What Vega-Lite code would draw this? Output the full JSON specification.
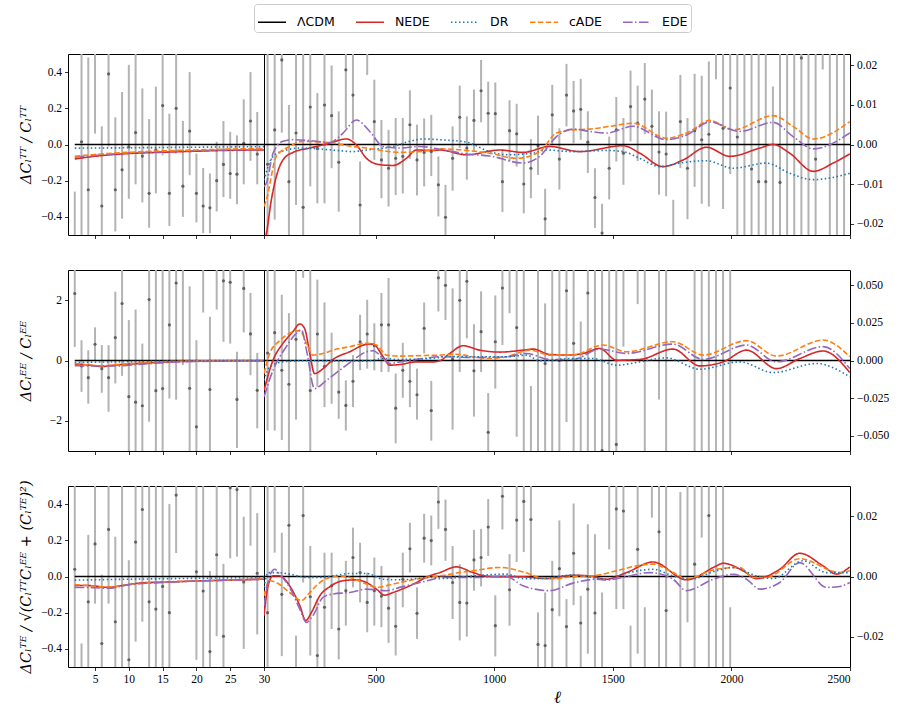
{
  "$schema": "https://vega.github.io/schema/vega-lite/v6.json",
  "background": "white",
  "padding": {"left": 17, "top": 3, "right": 5, "bottom": 5},
  "bounds": "flush",
  "columns": 2,
  "spacing": {"row": 35, "column": 0},
  "datasets": {
    "pts": [
      {"r":1,"l":2,"v":-0.62,"lo":-0.9,"hi":-0.26},{"r":1,"l":3,"v":0.015,"lo":-0.55,"hi":0.58},{"r":1,"l":4,"v":-0.25,"lo":-0.98,"hi":0.48},{"r":1,"l":5,"v":0.6,"lo":0.06,"hi":1.1},{"r":1,"l":6,"v":-0.34,"lo":-0.78,"hi":0.1},{"r":1,"l":7,"v":0.39,"lo":-0.01,"hi":0.79},{"r":1,"l":8,"v":-0.25,"lo":-0.48,"hi":0.15},{"r":1,"l":9,"v":-0.14,"lo":-0.41,"hi":0.29},{"r":1,"l":10,"v":-0.013,"lo":-0.3,"hi":0.44},{"r":1,"l":11,"v":0.066,"lo":-0.22,"hi":0.5},{"r":1,"l":12,"v":-0.064,"lo":-0.32,"hi":0.31},{"r":1,"l":13,"v":-0.27,"lo":-0.46,"hi":0.14},{"r":1,"l":14,"v":-0.03,"lo":-0.27,"hi":0.32},{"r":1,"l":15,"v":0.215,"lo":-0.06,"hi":0.55},{"r":1,"l":16,"v":-0.27,"lo":-0.45,"hi":0.17},{"r":1,"l":17,"v":0.2,"lo":-0.05,"hi":0.55},{"r":1,"l":18,"v":-0.23,"lo":-0.4,"hi":0.13},{"r":1,"l":19,"v":0.074,"lo":-0.17,"hi":0.4},{"r":1,"l":20,"v":-0.27,"lo":-0.43,"hi":-0.05},{"r":1,"l":21,"v":-0.34,"lo":-0.49,"hi":-0.13},{"r":1,"l":22,"v":-0.35,"lo":-0.49,"hi":-0.16},{"r":1,"l":23,"v":-0.2,"lo":-0.37,"hi":0.015},{"r":1,"l":24,"v":-0.11,"lo":-0.29,"hi":0.13},{"r":1,"l":25,"v":-0.16,"lo":-0.3,"hi":0.07},{"r":1,"l":26,"v":-0.164,"lo":-0.33,"hi":0.05},{"r":1,"l":27,"v":0.006,"lo":-0.22,"hi":0.25},{"r":1,"l":28,"v":0.13,"lo":-0.09,"hi":0.4},{"r":1,"l":29,"v":-0.053,"lo":-0.22,"hi":0.18},
      {"r":1,"l":45,"v":-0.005,"lo":-0.035,"hi":0.025},{"r":1,"l":75,"v":0.0037,"lo":-0.019,"hi":0.026},{"r":1,"l":105,"v":0.0214,"lo":0.003,"hi":0.041},{"r":1,"l":135,"v":-0.0094,"lo":-0.028,"hi":0.01},{"r":1,"l":165,"v":0.0029,"lo":-0.0153,"hi":0.023},{"r":1,"l":195,"v":-0.0159,"lo":-0.04,"hi":0.025},{"r":1,"l":225,"v":0.0095,"lo":-0.0106,"hi":0.027},{"r":1,"l":255,"v":-0.001,"lo":-0.0149,"hi":0.013},{"r":1,"l":285,"v":0.01,"lo":-0.0149,"hi":0.029},{"r":1,"l":315,"v":0.0073,"lo":-0.006,"hi":0.02},{"r":1,"l":345,"v":-0.0045,"lo":-0.017,"hi":0.0084},{"r":1,"l":375,"v":0.0189,"lo":0.0041,"hi":0.03},{"r":1,"l":405,"v":0.0125,"lo":0.0012,"hi":0.024},{"r":1,"l":435,"v":-0.0153,"lo":-0.026,"hi":-0.0043},{"r":1,"l":465,"v":0.0248,"lo":0.0176,"hi":0.032},{"r":1,"l":495,"v":0.0058,"lo":-0.0039,"hi":0.0164},{"r":1,"l":525,"v":-0.0039,"lo":-0.0136,"hi":0.0062},{"r":1,"l":555,"v":-0.006,"lo":-0.0157,"hi":0.0037},{"r":1,"l":585,"v":-0.0035,"lo":-0.0128,"hi":0.0067},{"r":1,"l":615,"v":-0.003,"lo":-0.0124,"hi":0.0067},{"r":1,"l":645,"v":0.005,"lo":-0.0036,"hi":0.0137},{"r":1,"l":675,"v":-0.0039,"lo":-0.0129,"hi":0.005},{"r":1,"l":705,"v":-0.002,"lo":-0.0106,"hi":0.0066},{"r":1,"l":735,"v":-0.0018,"lo":-0.008,"hi":0.0075},{"r":1,"l":765,"v":-0.0102,"lo":-0.0182,"hi":-0.003},{"r":1,"l":795,"v":-0.0184,"lo":-0.0266,"hi":-0.0102},{"r":1,"l":825,"v":-0.0035,"lo":-0.0117,"hi":0.0046},{"r":1,"l":855,"v":0.0069,"lo":-0.0009,"hi":0.0149},{"r":1,"l":885,"v":-0.0009,"lo":-0.0089,"hi":0.0071},{"r":1,"l":915,"v":0.0061,"lo":-0.0018,"hi":0.0139},{"r":1,"l":945,"v":0.0136,"lo":0.0056,"hi":0.0214},{"r":1,"l":975,"v":0.0079,"lo":0.0,"hi":0.0159},{"r":1,"l":1005,"v":0.0078,"lo":-0.0003,"hi":0.0157},{"r":1,"l":1035,"v":-0.0094,"lo":-0.0171,"hi":-0.0014},{"r":1,"l":1065,"v":0.0035,"lo":-0.0043,"hi":0.0112},{"r":1,"l":1095,"v":0.0027,"lo":-0.0056,"hi":0.0103},{"r":1,"l":1125,"v":-0.01,"lo":-0.0174,"hi":-0.002},{"r":1,"l":1155,"v":-0.006,"lo":-0.0136,"hi":0.0014},{"r":1,"l":1185,"v":-0.0003,"lo":-0.0077,"hi":0.0073},{"r":1,"l":1215,"v":-0.0188,"lo":-0.027,"hi":-0.0112},{"r":1,"l":1245,"v":0.0075,"lo":-0.0001,"hi":0.0151},{"r":1,"l":1275,"v":-0.0037,"lo":-0.0114,"hi":0.0041},{"r":1,"l":1305,"v":0.0125,"lo":0.0046,"hi":0.0204},{"r":1,"l":1335,"v":0.0085,"lo":0.0003,"hi":0.0161},{"r":1,"l":1365,"v":0.0089,"lo":0.0012,"hi":0.0166},{"r":1,"l":1395,"v":0.0006,"lo":-0.0072,"hi":0.0084},{"r":1,"l":1425,"v":-0.0134,"lo":-0.0211,"hi":-0.006},{"r":1,"l":1455,"v":-0.0224,"lo":-0.03,"hi":-0.015},{"r":1,"l":1485,"v":-0.006,"lo":-0.0139,"hi":0.002},{"r":1,"l":1515,"v":0.0037,"lo":-0.0043,"hi":0.012},{"r":1,"l":1545,"v":-0.0022,"lo":-0.0102,"hi":0.0067},{"r":1,"l":1575,"v":0.0096,"lo":0.0008,"hi":0.0187},{"r":1,"l":1605,"v":0.0054,"lo":-0.0042,"hi":0.0149},{"r":1,"l":1635,"v":0.0115,"lo":0.0026,"hi":0.0206},{"r":1,"l":1665,"v":0.0046,"lo":-0.005,"hi":0.0139},{"r":1,"l":1695,"v":-0.0019,"lo":-0.0127,"hi":0.0084},{"r":1,"l":1725,"v":-0.0024,"lo":-0.0131,"hi":0.0083},{"r":1,"l":1755,"v":-0.025,"lo":-0.036,"hi":-0.014},{"r":1,"l":1785,"v":0.0058,"lo":-0.006,"hi":0.0176},{"r":1,"l":1815,"v":-0.006,"lo":-0.0189,"hi":0.0067},{"r":1,"l":1845,"v":0.0035,"lo":-0.0107,"hi":0.0179},{"r":1,"l":1875,"v":0.0012,"lo":-0.015,"hi":0.0174},{"r":1,"l":1905,"v":0.0026,"lo":-0.0157,"hi":0.021},{"r":1,"l":1935,"v":0.026,"lo":0.0165,"hi":0.04},{"r":1,"l":1965,"v":0.0041,"lo":-0.0163,"hi":0.0245},{"r":1,"l":1995,"v":0.0143,"lo":-0.0075,"hi":0.036},{"r":1,"l":2025,"v":0.0019,"lo":-0.024,"hi":0.026},{"r":1,"l":2055,"v":-0.03,"lo":-0.085,"hi":0.025},{"r":1,"l":2085,"v":-0.0062,"lo":-0.037,"hi":0.025},{"r":1,"l":2115,"v":-0.0094,"lo":-0.043,"hi":0.024},{"r":1,"l":2145,"v":-0.0094,"lo":-0.043,"hi":0.024},{"r":1,"l":2175,"v":-0.025,"lo":-0.065,"hi":0.0147},{"r":1,"l":2205,"v":-0.0096,"lo":-0.045,"hi":0.026},{"r":1,"l":2235,"v":0.03,"lo":-0.03,"hi":0.09},{"r":1,"l":2265,"v":-0.03,"lo":-0.09,"hi":0.03},{"r":1,"l":2295,"v":0.0219,"lo":-0.023,"hi":0.067},{"r":1,"l":2325,"v":0.03,"lo":-0.03,"hi":0.09},{"r":1,"l":2355,"v":-0.0037,"lo":-0.05,"hi":0.043},{"r":1,"l":2385,"v":0.065,"lo":0.019,"hi":0.11},{"r":1,"l":2415,"v":-0.035,"lo":-0.09,"hi":0.025},{"r":1,"l":2445,"v":0.035,"lo":-0.03,"hi":0.1},{"r":1,"l":2475,"v":-0.03,"lo":-0.1,"hi":0.04},
      {"r":2,"l":2,"v":2.22,"lo":0.45,"hi":4},{"r":2,"l":3,"v":-0.18,"lo":-1.04,"hi":0.67},{"r":2,"l":4,"v":-0.57,"lo":-1.43,"hi":0.34},{"r":2,"l":5,"v":0.54,"lo":0.0,"hi":1.1},{"r":2,"l":6,"v":-0.27,"lo":-1.07,"hi":0.51},{"r":2,"l":7,"v":-0.57,"lo":-1.7,"hi":0.51},{"r":2,"l":8,"v":0.76,"lo":-0.76,"hi":2.28},{"r":2,"l":9,"v":1.89,"lo":-0.51,"hi":3.5},{"r":2,"l":10,"v":-1.2,"lo":-3.5,"hi":1.34},{"r":2,"l":11,"v":-1.38,"lo":-4,"hi":1.69},{"r":2,"l":12,"v":-1.5,"lo":-3.5,"hi":0.56},{"r":2,"l":13,"v":2.02,"lo":-2.03,"hi":4},{"r":2,"l":14,"v":-1.0,"lo":-3.5,"hi":3.2},{"r":2,"l":15,"v":-0.93,"lo":-3.5,"hi":3.2},{"r":2,"l":16,"v":1.18,"lo":-1.26,"hi":3.5},{"r":2,"l":17,"v":2.57,"lo":-1.3,"hi":4},{"r":2,"l":18,"v":3.2,"lo":-0.15,"hi":6},{"r":2,"l":19,"v":-0.92,"lo":-3.5,"hi":2.46},{"r":2,"l":20,"v":-2.2,"lo":-4.5,"hi":0.67},{"r":2,"l":21,"v":3.8,"lo":1.59,"hi":6},{"r":2,"l":22,"v":-0.96,"lo":-3.5,"hi":1.45},{"r":2,"l":23,"v":3.8,"lo":1.69,"hi":6},{"r":2,"l":24,"v":2.64,"lo":0.62,"hi":4.6},{"r":2,"l":25,"v":2.59,"lo":0.56,"hi":4.6},{"r":2,"l":26,"v":-1.29,"lo":-2.9,"hi":0.29},{"r":2,"l":27,"v":2.39,"lo":0.93,"hi":3.9},{"r":2,"l":28,"v":0.88,"lo":-0.49,"hi":2.24},{"r":2,"l":29,"v":-0.99,"lo":-2.25,"hi":0.25},
      {"r":2,"l":45,"v":0.005,"lo":-0.0466,"hi":0.07},{"r":2,"l":75,"v":0.0185,"lo":-0.0466,"hi":0.07},{"r":2,"l":105,"v":-0.0065,"lo":-0.0529,"hi":0.0437},{"r":2,"l":135,"v":-0.0158,"lo":-0.065,"hi":0.0315},{"r":2,"l":165,"v":0.0141,"lo":-0.0393,"hi":0.07},{"r":2,"l":195,"v":0.08,"lo":0.055,"hi":0.11},{"r":2,"l":225,"v":-0.02,"lo":-0.08,"hi":0.07},{"r":2,"l":255,"v":0.0176,"lo":-0.0176,"hi":0.0538},{"r":2,"l":285,"v":-0.0038,"lo":-0.031,"hi":0.0386},{"r":2,"l":315,"v":-0.0004,"lo":-0.0288,"hi":0.0185},{"r":2,"l":345,"v":-0.021,"lo":-0.0388,"hi":0.0002},{"r":2,"l":375,"v":-0.0299,"lo":-0.0466,"hi":-0.0132},{"r":2,"l":405,"v":-0.0138,"lo":-0.031,"hi":0.0036},{"r":2,"l":435,"v":0.0125,"lo":-0.0065,"hi":0.0304},{"r":2,"l":465,"v":0.0176,"lo":-0.0054,"hi":0.0404},{"r":2,"l":495,"v":0.0098,"lo":-0.0065,"hi":0.0248},{"r":2,"l":525,"v":0.0237,"lo":-0.0076,"hi":0.0449},{"r":2,"l":555,"v":0.0237,"lo":-0.0076,"hi":0.0549},{"r":2,"l":585,"v":-0.0317,"lo":-0.0551,"hi":-0.0087},{"r":2,"l":615,"v":-0.0065,"lo":-0.0248,"hi":0.0118},{"r":2,"l":645,"v":-0.0138,"lo":-0.031,"hi":0.0013},{"r":2,"l":675,"v":-0.0228,"lo":-0.0393,"hi":-0.0054},{"r":2,"l":705,"v":0.0214,"lo":0.0047,"hi":0.0386},{"r":2,"l":735,"v":-0.0333,"lo":-0.0533,"hi":-0.0136},{"r":2,"l":765,"v":0.055,"lo":0.0326,"hi":0.08},{"r":2,"l":795,"v":0.05,"lo":0.027,"hi":0.08},{"r":2,"l":825,"v":0.001,"lo":-0.046,"hi":0.048},{"r":2,"l":855,"v":0.04,"lo":-0.0076,"hi":0.07},{"r":2,"l":885,"v":0.0527,"lo":0.0147,"hi":0.075},{"r":2,"l":915,"v":-0.0069,"lo":-0.0373,"hi":0.0241},{"r":2,"l":945,"v":0.0192,"lo":-0.0076,"hi":0.046},{"r":2,"l":975,"v":-0.0478,"lo":-0.075,"hi":-0.0217},{"r":2,"l":1005,"v":0.0125,"lo":-0.0187,"hi":0.0433},{"r":2,"l":1035,"v":0.0482,"lo":0.0103,"hi":0.08},{"r":2,"l":1065,"v":0.065,"lo":0.0315,"hi":0.1},{"r":2,"l":1095,"v":0.0219,"lo":-0.0507,"hi":0.07},{"r":2,"l":1125,"v":0.08,"lo":-0.07,"hi":0.23},{"r":2,"l":1155,"v":-0.07,"lo":-0.12,"hi":-0.017},{"r":2,"l":1185,"v":-0.08,"lo":-0.2,"hi":0.07},{"r":2,"l":1215,"v":-0.002,"lo":-0.07,"hi":0.038},{"r":2,"l":1245,"v":0.08,"lo":-0.07,"hi":0.2},{"r":2,"l":1275,"v":0.0,"lo":-0.07,"hi":0.07},{"r":2,"l":1305,"v":0.0464,"lo":-0.041,"hi":0.09},{"r":2,"l":1335,"v":0.0114,"lo":-0.07,"hi":0.07},{"r":2,"l":1365,"v":-0.07,"lo":-0.17,"hi":0.0259},{"r":2,"l":1395,"v":0.0449,"lo":-0.07,"hi":0.15},{"r":2,"l":1425,"v":-0.09,"lo":-0.2,"hi":0.07},{"r":2,"l":1455,"v":-0.06,"lo":-0.16,"hi":0.07},{"r":2,"l":1485,"v":0.09,"lo":-0.07,"hi":0.25},{"r":2,"l":1515,"v":-0.0558,"lo":-0.16,"hi":0.07},{"r":2,"l":1545,"v":0.08,"lo":0.0092,"hi":0.15},{"r":2,"l":1605,"v":0.09,"lo":0.0375,"hi":0.15},{"r":2,"l":1635,"v":-0.1,"lo":-0.3,"hi":0.07},{"r":2,"l":1695,"v":0.08,"lo":-0.026,"hi":0.19},{"r":2,"l":1725,"v":-0.1,"lo":-0.3,"hi":0.1},{"r":2,"l":1845,"v":0.1,"lo":-0.1,"hi":0.3},{"r":2,"l":1875,"v":-0.1,"lo":-0.3,"hi":0.1},{"r":2,"l":1905,"v":0.1,"lo":-0.1,"hi":0.3},{"r":2,"l":1935,"v":-0.1,"lo":-0.3,"hi":0.1},{"r":2,"l":1965,"v":0.1,"lo":-0.1,"hi":0.3},{"r":2,"l":1995,"v":-0.1,"lo":-0.3,"hi":0.1},
      {"r":3,"l":2,"v":0.04,"lo":-0.6,"hi":0.7},{"r":3,"l":3,"v":-0.7,"lo":-1.0,"hi":-0.37},{"r":3,"l":4,"v":-0.14,"lo":-0.51,"hi":0.23},{"r":3,"l":5,"v":0.18,"lo":-0.15,"hi":0.5},{"r":3,"l":6,"v":-0.37,"lo":-0.75,"hi":0.01},{"r":3,"l":7,"v":0.26,"lo":-0.15,"hi":0.6},{"r":3,"l":8,"v":-0.25,"lo":-0.72,"hi":0.22},{"r":3,"l":9,"v":-0.6,"lo":-1.5,"hi":0.6},{"r":3,"l":10,"v":-0.46,"lo":-1.0,"hi":0.09},{"r":3,"l":11,"v":0.19,"lo":-0.36,"hi":0.6},{"r":3,"l":12,"v":0.37,"lo":-0.25,"hi":0.8},{"r":3,"l":13,"v":-0.14,"lo":-0.7,"hi":0.55},{"r":3,"l":14,"v":-0.18,"lo":-0.8,"hi":0.55},{"r":3,"l":15,"v":-0.055,"lo":-0.65,"hi":0.55},{"r":3,"l":16,"v":-0.2,"lo":-0.8,"hi":0.4},{"r":3,"l":17,"v":0.45,"lo":0.13,"hi":0.9},{"r":3,"l":18,"v":0.8,"lo":0.55,"hi":1.1},{"r":3,"l":19,"v":-0.8,"lo":-1.1,"hi":-0.55},{"r":3,"l":20,"v":0.026,"lo":-0.46,"hi":0.5},{"r":3,"l":21,"v":-0.08,"lo":-0.6,"hi":0.55},{"r":3,"l":22,"v":-0.415,"lo":-0.86,"hi":0.03},{"r":3,"l":23,"v":0.12,"lo":-0.33,"hi":0.5},{"r":3,"l":24,"v":-0.33,"lo":-0.73,"hi":0.07},{"r":3,"l":25,"v":0.49,"lo":0.1,"hi":0.9},{"r":3,"l":26,"v":0.48,"lo":0.11,"hi":0.85},{"r":3,"l":27,"v":-0.03,"lo":-0.4,"hi":0.33},{"r":3,"l":28,"v":0.55,"lo":0.17,"hi":0.85},{"r":3,"l":29,"v":0.018,"lo":-0.32,"hi":0.35},
      {"r":3,"l":45,"v":-0.012,"lo":-0.045,"hi":0.035},{"r":3,"l":75,"v":0.033,"lo":0.0079,"hi":0.06},{"r":3,"l":105,"v":-0.0059,"lo":-0.0264,"hi":0.0145},{"r":3,"l":135,"v":0.017,"lo":-0.0025,"hi":0.035},{"r":3,"l":165,"v":-0.035,"lo":-0.05,"hi":-0.0196},{"r":3,"l":195,"v":0.0202,"lo":-0.002,"hi":0.04},{"r":3,"l":225,"v":-0.0067,"lo":-0.0262,"hi":0.0101},{"r":3,"l":255,"v":-0.0262,"lo":-0.045,"hi":-0.0075},{"r":3,"l":285,"v":-0.0102,"lo":-0.03,"hi":0.0079},{"r":3,"l":315,"v":-0.0031,"lo":-0.0174,"hi":0.0079},{"r":3,"l":345,"v":-0.0174,"lo":-0.0275,"hi":-0.0003},{"r":3,"l":375,"v":-0.0047,"lo":-0.0163,"hi":0.0052},{"r":3,"l":405,"v":0.0063,"lo":-0.0036,"hi":0.0162},{"r":3,"l":435,"v":0.0013,"lo":-0.0086,"hi":0.0112},{"r":3,"l":465,"v":-0.0086,"lo":-0.0185,"hi":0.0013},{"r":3,"l":495,"v":-0.0047,"lo":-0.0163,"hi":0.0063},{"r":3,"l":525,"v":-0.0065,"lo":-0.0168,"hi":0.0035},{"r":3,"l":555,"v":-0.0105,"lo":-0.022,"hi":0.0002},{"r":3,"l":585,"v":-0.0165,"lo":-0.0262,"hi":-0.0053},{"r":3,"l":615,"v":-0.0009,"lo":-0.0102,"hi":0.0079},{"r":3,"l":645,"v":0.0092,"lo":0.0013,"hi":0.0178},{"r":3,"l":675,"v":-0.0122,"lo":-0.0207,"hi":-0.0036},{"r":3,"l":705,"v":0.0127,"lo":0.0046,"hi":0.0208},{"r":3,"l":735,"v":0.0119,"lo":0.0037,"hi":0.0202},{"r":3,"l":765,"v":0.0247,"lo":0.0158,"hi":0.033},{"r":3,"l":795,"v":0.0156,"lo":0.0052,"hi":0.0255},{"r":3,"l":825,"v":-0.002,"lo":-0.0141,"hi":0.0101},{"r":3,"l":855,"v":-0.0086,"lo":-0.0212,"hi":0.0041},{"r":3,"l":885,"v":-0.0088,"lo":-0.0199,"hi":0.0024},{"r":3,"l":915,"v":0.0055,"lo":-0.0047,"hi":0.0154},{"r":3,"l":945,"v":0.0063,"lo":-0.0033,"hi":0.0158},{"r":3,"l":975,"v":0.0164,"lo":0.0068,"hi":0.0257},{"r":3,"l":1005,"v":-0.0163,"lo":-0.0265,"hi":-0.0062},{"r":3,"l":1035,"v":0.0266,"lo":0.0156,"hi":0.038},{"r":3,"l":1065,"v":-0.0044,"lo":-0.0163,"hi":0.0074},{"r":3,"l":1095,"v":0.0187,"lo":0.0048,"hi":0.031},{"r":3,"l":1125,"v":0.0249,"lo":0.0081,"hi":0.035},{"r":3,"l":1155,"v":0.0189,"lo":-0.0009,"hi":0.034},{"r":3,"l":1185,"v":-0.0225,"lo":-0.034,"hi":-0.0119},{"r":3,"l":1215,"v":-0.0229,"lo":-0.04,"hi":-0.0053},{"r":3,"l":1245,"v":-0.011,"lo":-0.03,"hi":0.0052},{"r":3,"l":1275,"v":0.0026,"lo":-0.0132,"hi":0.0186},{"r":3,"l":1305,"v":-0.0166,"lo":-0.03,"hi":-0.0075},{"r":3,"l":1335,"v":0.0077,"lo":-0.0095,"hi":0.0242},{"r":3,"l":1365,"v":-0.0154,"lo":-0.03,"hi":-0.0064},{"r":3,"l":1395,"v":-0.0042,"lo":-0.0256,"hi":0.0173},{"r":3,"l":1425,"v":-0.0121,"lo":-0.035,"hi":0.014},{"r":3,"l":1455,"v":-0.035,"lo":-0.06,"hi":-0.0053},{"r":3,"l":1485,"v":0.035,"lo":0.009,"hi":0.06},{"r":3,"l":1515,"v":0.0224,"lo":-0.0108,"hi":0.04},{"r":3,"l":1545,"v":0.0217,"lo":-0.0108,"hi":0.04},{"r":3,"l":1575,"v":-0.04,"lo":-0.06,"hi":-0.0163},{"r":3,"l":1605,"v":0.009,"lo":-0.0256,"hi":0.035},{"r":3,"l":1635,"v":-0.04,"lo":-0.07,"hi":-0.0102},{"r":3,"l":1665,"v":0.045,"lo":0.0195,"hi":0.07},{"r":3,"l":1695,"v":0.0148,"lo":-0.035,"hi":0.065},{"r":3,"l":1725,"v":-0.0113,"lo":-0.06,"hi":0.035},{"r":3,"l":1785,"v":-0.035,"lo":-0.098,"hi":0.028},{"r":3,"l":1815,"v":0.035,"lo":-0.0152,"hi":0.085},{"r":3,"l":1845,"v":0.0041,"lo":-0.04,"hi":0.05},{"r":3,"l":1875,"v":0.04,"lo":0.0129,"hi":0.07},{"r":3,"l":1905,"v":0.0202,"lo":-0.035,"hi":0.075},{"r":3,"l":1935,"v":0.05,"lo":-0.04,"hi":0.14},{"r":3,"l":1965,"v":-0.05,"lo":-0.14,"hi":0.04},{"r":3,"l":1995,"v":-0.05,"lo":-0.09,"hi":-0.0102}
    ],
    "crv": [
      {"r":1,"s":"L","m":"ΛCDM","l":2,"v":0},{"r":1,"s":"L","m":"ΛCDM","l":30,"v":0},{"r":1,"s":"R","m":"ΛCDM","l":30,"v":0},{"r":1,"s":"R","m":"ΛCDM","l":2500,"v":0},
      {"r":2,"s":"L","m":"ΛCDM","l":2,"v":0},{"r":2,"s":"L","m":"ΛCDM","l":30,"v":0},{"r":2,"s":"R","m":"ΛCDM","l":30,"v":0},{"r":2,"s":"R","m":"ΛCDM","l":2500,"v":0},
      {"r":3,"s":"L","m":"ΛCDM","l":2,"v":0},{"r":3,"s":"L","m":"ΛCDM","l":30,"v":0},{"r":3,"s":"R","m":"ΛCDM","l":30,"v":0},{"r":3,"s":"R","m":"ΛCDM","l":2500,"v":0},

      {"r":1,"s":"L","m":"NEDE","l":2,"v":-0.08},{"r":1,"s":"L","m":"NEDE","l":5,"v":-0.065},{"r":1,"s":"L","m":"NEDE","l":10,"v":-0.05},{"r":1,"s":"L","m":"NEDE","l":15,"v":-0.043},{"r":1,"s":"L","m":"NEDE","l":20,"v":-0.037},{"r":1,"s":"L","m":"NEDE","l":25,"v":-0.032},{"r":1,"s":"L","m":"NEDE","l":30,"v":-0.03},
      {"r":1,"s":"L","m":"EDE","l":2,"v":-0.07},{"r":1,"s":"L","m":"EDE","l":5,"v":-0.06},{"r":1,"s":"L","m":"EDE","l":10,"v":-0.047},{"r":1,"s":"L","m":"EDE","l":15,"v":-0.04},{"r":1,"s":"L","m":"EDE","l":20,"v":-0.034},{"r":1,"s":"L","m":"EDE","l":25,"v":-0.03},{"r":1,"s":"L","m":"EDE","l":30,"v":-0.027},
      {"r":1,"s":"L","m":"cADE","l":2,"v":-0.065},{"r":1,"s":"L","m":"cADE","l":5,"v":-0.055},{"r":1,"s":"L","m":"cADE","l":10,"v":-0.043},{"r":1,"s":"L","m":"cADE","l":15,"v":-0.035},{"r":1,"s":"L","m":"cADE","l":20,"v":-0.03},{"r":1,"s":"L","m":"cADE","l":25,"v":-0.025},{"r":1,"s":"L","m":"cADE","l":30,"v":-0.022},
      {"r":1,"s":"L","m":"DR","l":2,"v":-0.02},{"r":1,"s":"L","m":"DR","l":10,"v":-0.018},{"r":1,"s":"L","m":"DR","l":20,"v":-0.015},{"r":1,"s":"L","m":"DR","l":30,"v":-0.012},

      {"r":1,"s":"R","m":"NEDE","l":30,"v":-0.025},{"r":1,"s":"R","m":"NEDE","l":40,"v":-0.0225},{"r":1,"s":"R","m":"NEDE","l":61,"v":-0.014},{"r":1,"s":"R","m":"NEDE","l":82,"v":-0.0081},{"r":1,"s":"R","m":"NEDE","l":110,"v":-0.0039},{"r":1,"s":"R","m":"NEDE","l":152,"v":-0.002},{"r":1,"s":"R","m":"NEDE","l":223,"v":-0.0009},{"r":1,"s":"R","m":"NEDE","l":300,"v":0.0002},{"r":1,"s":"R","m":"NEDE","l":377,"v":0.0014},{"r":1,"s":"R","m":"NEDE","l":419,"v":-0.0001},{"r":1,"s":"R","m":"NEDE","l":462,"v":-0.0035},{"r":1,"s":"R","m":"NEDE","l":518,"v":-0.0051},{"r":1,"s":"R","m":"NEDE","l":574,"v":-0.0053},{"r":1,"s":"R","m":"NEDE","l":630,"v":-0.0035},{"r":1,"s":"R","m":"NEDE","l":672,"v":-0.0014},{"r":1,"s":"R","m":"NEDE","l":743,"v":-0.0015},{"r":1,"s":"R","m":"NEDE","l":771,"v":-0.0014},{"r":1,"s":"R","m":"NEDE","l":883,"v":-0.0026},{"r":1,"s":"R","m":"NEDE","l":1024,"v":-0.0014},{"r":1,"s":"R","m":"NEDE","l":1122,"v":-0.002},{"r":1,"s":"R","m":"NEDE","l":1234,"v":-0.0005},{"r":1,"s":"R","m":"NEDE","l":1361,"v":-0.0018},{"r":1,"s":"R","m":"NEDE","l":1544,"v":-0.0003},{"r":1,"s":"R","m":"NEDE","l":1614,"v":-0.0022},{"r":1,"s":"R","m":"NEDE","l":1712,"v":-0.0056},{"r":1,"s":"R","m":"NEDE","l":1797,"v":-0.0039},{"r":1,"s":"R","m":"NEDE","l":1895,"v":-0.0007},{"r":1,"s":"R","m":"NEDE","l":1993,"v":-0.003},{"r":1,"s":"R","m":"NEDE","l":2120,"v":-0.0009},{"r":1,"s":"R","m":"NEDE","l":2176,"v":0},{"r":1,"s":"R","m":"NEDE","l":2246,"v":-0.0022},{"r":1,"s":"R","m":"NEDE","l":2345,"v":-0.0068},{"r":1,"s":"R","m":"NEDE","l":2429,"v":-0.0047},{"r":1,"s":"R","m":"NEDE","l":2499,"v":-0.0024},
      {"r":1,"s":"R","m":"DR","l":30,"v":-0.009},{"r":1,"s":"R","m":"DR","l":47,"v":-0.0056},{"r":1,"s":"R","m":"DR","l":68,"v":-0.003},{"r":1,"s":"R","m":"DR","l":124,"v":-0.0014},{"r":1,"s":"R","m":"DR","l":181,"v":-0.0009},{"r":1,"s":"R","m":"DR","l":321,"v":-0.0014},{"r":1,"s":"R","m":"DR","l":405,"v":-0.0018},{"r":1,"s":"R","m":"DR","l":462,"v":-0.0014},{"r":1,"s":"R","m":"DR","l":574,"v":-0.0005},{"r":1,"s":"R","m":"DR","l":644,"v":0.0008},{"r":1,"s":"R","m":"DR","l":700,"v":0.0014},{"r":1,"s":"R","m":"DR","l":771,"v":0.0012},{"r":1,"s":"R","m":"DR","l":883,"v":0.0006},{"r":1,"s":"R","m":"DR","l":981,"v":-0.0018},{"r":1,"s":"R","m":"DR","l":1052,"v":-0.0026},{"r":1,"s":"R","m":"DR","l":1164,"v":-0.0022},{"r":1,"s":"R","m":"DR","l":1220,"v":-0.0014},{"r":1,"s":"R","m":"DR","l":1333,"v":-0.0018},{"r":1,"s":"R","m":"DR","l":1473,"v":-0.0015},{"r":1,"s":"R","m":"DR","l":1544,"v":-0.0018},{"r":1,"s":"R","m":"DR","l":1614,"v":-0.0035},{"r":1,"s":"R","m":"DR","l":1698,"v":-0.0056},{"r":1,"s":"R","m":"DR","l":1783,"v":-0.0047},{"r":1,"s":"R","m":"DR","l":1895,"v":-0.0041},{"r":1,"s":"R","m":"DR","l":2007,"v":-0.006},{"r":1,"s":"R","m":"DR","l":2148,"v":-0.0047},{"r":1,"s":"R","m":"DR","l":2246,"v":-0.0073},{"r":1,"s":"R","m":"DR","l":2345,"v":-0.0089},{"r":1,"s":"R","m":"DR","l":2499,"v":-0.0073},
      {"r":1,"s":"R","m":"cADE","l":30,"v":-0.0157},{"r":1,"s":"R","m":"cADE","l":40,"v":-0.014},{"r":1,"s":"R","m":"cADE","l":82,"v":-0.003},{"r":1,"s":"R","m":"cADE","l":138,"v":-0.0005},{"r":1,"s":"R","m":"cADE","l":195,"v":0.0008},{"r":1,"s":"R","m":"cADE","l":300,"v":0.0005},{"r":1,"s":"R","m":"cADE","l":405,"v":-0.0005},{"r":1,"s":"R","m":"cADE","l":462,"v":-0.0009},{"r":1,"s":"R","m":"cADE","l":602,"v":-0.002},{"r":1,"s":"R","m":"cADE","l":743,"v":-0.0014},{"r":1,"s":"R","m":"cADE","l":771,"v":-0.0011},{"r":1,"s":"R","m":"cADE","l":883,"v":-0.0015},{"r":1,"s":"R","m":"cADE","l":981,"v":-0.0022},{"r":1,"s":"R","m":"cADE","l":1094,"v":-0.0035},{"r":1,"s":"R","m":"cADE","l":1192,"v":-0.0018},{"r":1,"s":"R","m":"cADE","l":1263,"v":0.0029},{"r":1,"s":"R","m":"cADE","l":1333,"v":0.0037},{"r":1,"s":"R","m":"cADE","l":1403,"v":0.0039},{"r":1,"s":"R","m":"cADE","l":1501,"v":0.0047},{"r":1,"s":"R","m":"cADE","l":1586,"v":0.0054},{"r":1,"s":"R","m":"cADE","l":1726,"v":0.0016},{"r":1,"s":"R","m":"cADE","l":1825,"v":0.0033},{"r":1,"s":"R","m":"cADE","l":1909,"v":0.0061},{"r":1,"s":"R","m":"cADE","l":2007,"v":0.0037},{"r":1,"s":"R","m":"cADE","l":2176,"v":0.0073},{"r":1,"s":"R","m":"cADE","l":2260,"v":0.0046},{"r":1,"s":"R","m":"cADE","l":2345,"v":0.0014},{"r":1,"s":"R","m":"cADE","l":2499,"v":0.0058},
      {"r":1,"s":"R","m":"EDE","l":30,"v":-0.0106},{"r":1,"s":"R","m":"EDE","l":40,"v":-0.0098},{"r":1,"s":"R","m":"EDE","l":68,"v":-0.0022},{"r":1,"s":"R","m":"EDE","l":110,"v":0.0008},{"r":1,"s":"R","m":"EDE","l":152,"v":0.0012},{"r":1,"s":"R","m":"EDE","l":223,"v":0.001},{"r":1,"s":"R","m":"EDE","l":307,"v":0.0005},{"r":1,"s":"R","m":"EDE","l":363,"v":0.0029},{"r":1,"s":"R","m":"EDE","l":419,"v":0.0062},{"r":1,"s":"R","m":"EDE","l":476,"v":0.0033},{"r":1,"s":"R","m":"EDE","l":532,"v":-0.0005},{"r":1,"s":"R","m":"EDE","l":602,"v":-0.0009},{"r":1,"s":"R","m":"EDE","l":686,"v":-0.0005},{"r":1,"s":"R","m":"EDE","l":771,"v":-0.0012},{"r":1,"s":"R","m":"EDE","l":883,"v":-0.0024},{"r":1,"s":"R","m":"EDE","l":981,"v":-0.0029},{"r":1,"s":"R","m":"EDE","l":1122,"v":-0.0047},{"r":1,"s":"R","m":"EDE","l":1192,"v":-0.003},{"r":1,"s":"R","m":"EDE","l":1263,"v":0.002},{"r":1,"s":"R","m":"EDE","l":1333,"v":0.0039},{"r":1,"s":"R","m":"EDE","l":1403,"v":0.0033},{"r":1,"s":"R","m":"EDE","l":1473,"v":0.0029},{"r":1,"s":"R","m":"EDE","l":1586,"v":0.0046},{"r":1,"s":"R","m":"EDE","l":1726,"v":0.0012},{"r":1,"s":"R","m":"EDE","l":1811,"v":0.0024},{"r":1,"s":"R","m":"EDE","l":1909,"v":0.0057},{"r":1,"s":"R","m":"EDE","l":2035,"v":0.0033},{"r":1,"s":"R","m":"EDE","l":2176,"v":0.0056},{"r":1,"s":"R","m":"EDE","l":2260,"v":0.002},{"r":1,"s":"R","m":"EDE","l":2345,"v":-0.0011},{"r":1,"s":"R","m":"EDE","l":2499,"v":0.0029},

      {"r":2,"s":"L","m":"NEDE","l":2,"v":-0.12},{"r":2,"s":"L","m":"NEDE","l":4,"v":-0.15},{"r":2,"s":"L","m":"NEDE","l":6,"v":-0.2},{"r":2,"s":"L","m":"NEDE","l":8,"v":-0.15},{"r":2,"s":"L","m":"NEDE","l":10,"v":-0.12},{"r":2,"s":"L","m":"NEDE","l":15,"v":-0.06},{"r":2,"s":"L","m":"NEDE","l":20,"v":-0.02},{"r":2,"s":"L","m":"NEDE","l":25,"v":-0.01},{"r":2,"s":"L","m":"NEDE","l":30,"v":-0.01},
      {"r":2,"s":"L","m":"cADE","l":2,"v":-0.1},{"r":2,"s":"L","m":"cADE","l":4,"v":-0.14},{"r":2,"s":"L","m":"cADE","l":6,"v":-0.18},{"r":2,"s":"L","m":"cADE","l":8,"v":-0.14},{"r":2,"s":"L","m":"cADE","l":12,"v":-0.08},{"r":2,"s":"L","m":"cADE","l":18,"v":-0.02},{"r":2,"s":"L","m":"cADE","l":30,"v":0},
      {"r":2,"s":"L","m":"EDE","l":2,"v":-0.17},{"r":2,"s":"L","m":"EDE","l":5,"v":-0.18},{"r":2,"s":"L","m":"EDE","l":8,"v":-0.18},{"r":2,"s":"L","m":"EDE","l":12,"v":-0.12},{"r":2,"s":"L","m":"EDE","l":18,"v":-0.04},{"r":2,"s":"L","m":"EDE","l":24,"v":-0.02},{"r":2,"s":"L","m":"EDE","l":30,"v":-0.01},
      {"r":2,"s":"L","m":"DR","l":2,"v":-0.06},{"r":2,"s":"L","m":"DR","l":10,"v":-0.04},{"r":2,"s":"L","m":"DR","l":20,"v":-0.01},{"r":2,"s":"L","m":"DR","l":30,"v":0},

      {"r":2,"s":"R","m":"NEDE","l":30,"v":-0.0199},{"r":2,"s":"R","m":"NEDE","l":68,"v":0.0002},{"r":2,"s":"R","m":"NEDE","l":110,"v":0.0114},{"r":2,"s":"R","m":"NEDE","l":152,"v":0.0192},{"r":2,"s":"R","m":"NEDE","l":181,"v":0.0243},{"r":2,"s":"R","m":"NEDE","l":201,"v":0.0214},{"r":2,"s":"R","m":"NEDE","l":223,"v":0.0047},{"r":2,"s":"R","m":"NEDE","l":243,"v":-0.0087},{"r":2,"s":"R","m":"NEDE","l":279,"v":-0.0054},{"r":2,"s":"R","m":"NEDE","l":321,"v":0.0007},{"r":2,"s":"R","m":"NEDE","l":391,"v":0.0058},{"r":2,"s":"R","m":"NEDE","l":462,"v":0.0107},{"r":2,"s":"R","m":"NEDE","l":490,"v":0.0109},{"r":2,"s":"R","m":"NEDE","l":532,"v":0.0025},{"r":2,"s":"R","m":"NEDE","l":560,"v":-0.0031},{"r":2,"s":"R","m":"NEDE","l":602,"v":-0.0027},{"r":2,"s":"R","m":"NEDE","l":672,"v":-0.0009},{"r":2,"s":"R","m":"NEDE","l":743,"v":-0.0009},{"r":2,"s":"R","m":"NEDE","l":771,"v":-0.0002},{"r":2,"s":"R","m":"NEDE","l":813,"v":0.0047},{"r":2,"s":"R","m":"NEDE","l":869,"v":0.0098},{"r":2,"s":"R","m":"NEDE","l":939,"v":0.0069},{"r":2,"s":"R","m":"NEDE","l":1024,"v":0.0056},{"r":2,"s":"R","m":"NEDE","l":1122,"v":0.0069},{"r":2,"s":"R","m":"NEDE","l":1164,"v":0.0076},{"r":2,"s":"R","m":"NEDE","l":1234,"v":0.004},{"r":2,"s":"R","m":"NEDE","l":1305,"v":0.0036},{"r":2,"s":"R","m":"NEDE","l":1375,"v":0.0047},{"r":2,"s":"R","m":"NEDE","l":1445,"v":0.008},{"r":2,"s":"R","m":"NEDE","l":1516,"v":0.0002},{"r":2,"s":"R","m":"NEDE","l":1614,"v":0.0007},{"r":2,"s":"R","m":"NEDE","l":1754,"v":0.0076},{"r":2,"s":"R","m":"NEDE","l":1867,"v":-0.0036},{"r":2,"s":"R","m":"NEDE","l":1965,"v":-0.0009},{"r":2,"s":"R","m":"NEDE","l":2064,"v":0.0069},{"r":2,"s":"R","m":"NEDE","l":2190,"v":-0.0054},{"r":2,"s":"R","m":"NEDE","l":2288,"v":0.0013},{"r":2,"s":"R","m":"NEDE","l":2387,"v":0.0063},{"r":2,"s":"R","m":"NEDE","l":2499,"v":-0.008},
      {"r":2,"s":"R","m":"cADE","l":30,"v":-0.0087},{"r":2,"s":"R","m":"cADE","l":54,"v":0.0047},{"r":2,"s":"R","m":"cADE","l":96,"v":0.0132},{"r":2,"s":"R","m":"cADE","l":138,"v":0.0181},{"r":2,"s":"R","m":"cADE","l":181,"v":0.0199},{"r":2,"s":"R","m":"cADE","l":209,"v":0.0114},{"r":2,"s":"R","m":"cADE","l":236,"v":0.0036},{"r":2,"s":"R","m":"cADE","l":279,"v":0.0047},{"r":2,"s":"R","m":"cADE","l":321,"v":0.0069},{"r":2,"s":"R","m":"cADE","l":391,"v":0.0092},{"r":2,"s":"R","m":"cADE","l":462,"v":0.0114},{"r":2,"s":"R","m":"cADE","l":504,"v":0.0103},{"r":2,"s":"R","m":"cADE","l":546,"v":0.0036},{"r":2,"s":"R","m":"cADE","l":602,"v":0.0029},{"r":2,"s":"R","m":"cADE","l":700,"v":0.0033},{"r":2,"s":"R","m":"cADE","l":771,"v":0.0036},{"r":2,"s":"R","m":"cADE","l":841,"v":0.0042},{"r":2,"s":"R","m":"cADE","l":911,"v":0.0025},{"r":2,"s":"R","m":"cADE","l":981,"v":0.0013},{"r":2,"s":"R","m":"cADE","l":1052,"v":0.0025},{"r":2,"s":"R","m":"cADE","l":1150,"v":0.0069},{"r":2,"s":"R","m":"cADE","l":1234,"v":0.0036},{"r":2,"s":"R","m":"cADE","l":1333,"v":0.0036},{"r":2,"s":"R","m":"cADE","l":1459,"v":0.0103},{"r":2,"s":"R","m":"cADE","l":1558,"v":0.0058},{"r":2,"s":"R","m":"cADE","l":1754,"v":0.0125},{"r":2,"s":"R","m":"cADE","l":1881,"v":0.0036},{"r":2,"s":"R","m":"cADE","l":2064,"v":0.0132},{"r":2,"s":"R","m":"cADE","l":2190,"v":0.0029},{"r":2,"s":"R","m":"cADE","l":2387,"v":0.0136},{"r":2,"s":"R","m":"cADE","l":2499,"v":0.0025},
      {"r":2,"s":"R","m":"EDE","l":30,"v":-0.0243},{"r":2,"s":"R","m":"EDE","l":68,"v":-0.0065},{"r":2,"s":"R","m":"EDE","l":124,"v":0.0092},{"r":2,"s":"R","m":"EDE","l":166,"v":0.0181},{"r":2,"s":"R","m":"EDE","l":188,"v":0.0203},{"r":2,"s":"R","m":"EDE","l":209,"v":0.0069},{"r":2,"s":"R","m":"EDE","l":243,"v":-0.0187},{"r":2,"s":"R","m":"EDE","l":293,"v":-0.0132},{"r":2,"s":"R","m":"EDE","l":349,"v":-0.0065},{"r":2,"s":"R","m":"EDE","l":405,"v":0.0002},{"r":2,"s":"R","m":"EDE","l":462,"v":0.0058},{"r":2,"s":"R","m":"EDE","l":490,"v":0.0065},{"r":2,"s":"R","m":"EDE","l":532,"v":0.0013},{"r":2,"s":"R","m":"EDE","l":560,"v":-0.002},{"r":2,"s":"R","m":"EDE","l":602,"v":-0.0009},{"r":2,"s":"R","m":"EDE","l":700,"v":0.0013},{"r":2,"s":"R","m":"EDE","l":771,"v":0.0025},{"r":2,"s":"R","m":"EDE","l":911,"v":0.002},{"r":2,"s":"R","m":"EDE","l":1052,"v":0.0025},{"r":2,"s":"R","m":"EDE","l":1136,"v":0.0047},{"r":2,"s":"R","m":"EDE","l":1234,"v":0.0007},{"r":2,"s":"R","m":"EDE","l":1333,"v":0.0007},{"r":2,"s":"R","m":"EDE","l":1445,"v":0.0076},{"r":2,"s":"R","m":"EDE","l":1558,"v":0.0047},{"r":2,"s":"R","m":"EDE","l":1754,"v":0.0109},{"r":2,"s":"R","m":"EDE","l":1881,"v":0.0007},{"r":2,"s":"R","m":"EDE","l":2064,"v":0.0103},{"r":2,"s":"R","m":"EDE","l":2190,"v":-0.0009},{"r":2,"s":"R","m":"EDE","l":2387,"v":0.0092},{"r":2,"s":"R","m":"EDE","l":2499,"v":-0.0054},
      {"r":2,"s":"R","m":"DR","l":30,"v":-0.0132},{"r":2,"s":"R","m":"DR","l":54,"v":-0.0042},{"r":2,"s":"R","m":"DR","l":110,"v":-0.0009},{"r":2,"s":"R","m":"DR","l":181,"v":-0.0002},{"r":2,"s":"R","m":"DR","l":251,"v":-0.0002},{"r":2,"s":"R","m":"DR","l":462,"v":-0.0004},{"r":2,"s":"R","m":"DR","l":532,"v":0.0013},{"r":2,"s":"R","m":"DR","l":602,"v":0.0007},{"r":2,"s":"R","m":"DR","l":743,"v":0.0015},{"r":2,"s":"R","m":"DR","l":800,"v":0.0027},{"r":2,"s":"R","m":"DR","l":911,"v":0.0025},{"r":2,"s":"R","m":"DR","l":1052,"v":0.0025},{"r":2,"s":"R","m":"DR","l":1136,"v":0.0036},{"r":2,"s":"R","m":"DR","l":1192,"v":-0.0002},{"r":2,"s":"R","m":"DR","l":1333,"v":0.0013},{"r":2,"s":"R","m":"DR","l":1417,"v":0.0013},{"r":2,"s":"R","m":"DR","l":1516,"v":-0.0031},{"r":2,"s":"R","m":"DR","l":1614,"v":-0.0009},{"r":2,"s":"R","m":"DR","l":1726,"v":0.0018},{"r":2,"s":"R","m":"DR","l":1867,"v":-0.0058},{"r":2,"s":"R","m":"DR","l":2035,"v":-0.0009},{"r":2,"s":"R","m":"DR","l":2176,"v":-0.008},{"r":2,"s":"R","m":"DR","l":2359,"v":-0.002},{"r":2,"s":"R","m":"DR","l":2499,"v":-0.0109},

      {"r":3,"s":"L","m":"NEDE","l":2,"v":-0.05},{"r":3,"s":"L","m":"NEDE","l":4,"v":-0.05},{"r":3,"s":"L","m":"NEDE","l":7,"v":-0.06},{"r":3,"s":"L","m":"NEDE","l":9,"v":-0.05},{"r":3,"s":"L","m":"NEDE","l":12,"v":-0.035},{"r":3,"s":"L","m":"NEDE","l":16,"v":-0.03},{"r":3,"s":"L","m":"NEDE","l":20,"v":-0.025},{"r":3,"s":"L","m":"NEDE","l":25,"v":-0.02},{"r":3,"s":"L","m":"NEDE","l":30,"v":-0.015},
      {"r":3,"s":"L","m":"cADE","l":2,"v":-0.045},{"r":3,"s":"L","m":"cADE","l":4,"v":-0.05},{"r":3,"s":"L","m":"cADE","l":7,"v":-0.058},{"r":3,"s":"L","m":"cADE","l":10,"v":-0.045},{"r":3,"s":"L","m":"cADE","l":14,"v":-0.032},{"r":3,"s":"L","m":"cADE","l":20,"v":-0.025},{"r":3,"s":"L","m":"cADE","l":30,"v":-0.013},
      {"r":3,"s":"L","m":"EDE","l":2,"v":-0.06},{"r":3,"s":"L","m":"EDE","l":5,"v":-0.062},{"r":3,"s":"L","m":"EDE","l":7,"v":-0.065},{"r":3,"s":"L","m":"EDE","l":10,"v":-0.045},{"r":3,"s":"L","m":"EDE","l":14,"v":-0.035},{"r":3,"s":"L","m":"EDE","l":20,"v":-0.025},{"r":3,"s":"L","m":"EDE","l":30,"v":-0.015},
      {"r":3,"s":"L","m":"DR","l":2,"v":-0.02},{"r":3,"s":"L","m":"DR","l":10,"v":-0.015},{"r":3,"s":"L","m":"DR","l":20,"v":-0.01},{"r":3,"s":"L","m":"DR","l":30,"v":-0.005},

      {"r":3,"s":"R","m":"NEDE","l":30,"v":-0.013},{"r":3,"s":"R","m":"NEDE","l":47,"v":-0.0031},{"r":3,"s":"R","m":"NEDE","l":68,"v":0.0002},{"r":3,"s":"R","m":"NEDE","l":96,"v":0.0002},{"r":3,"s":"R","m":"NEDE","l":138,"v":-0.0031},{"r":3,"s":"R","m":"NEDE","l":181,"v":-0.0097},{"r":3,"s":"R","m":"NEDE","l":206,"v":-0.0146},{"r":3,"s":"R","m":"NEDE","l":230,"v":-0.0119},{"r":3,"s":"R","m":"NEDE","l":265,"v":-0.0064},{"r":3,"s":"R","m":"NEDE","l":307,"v":-0.0034},{"r":3,"s":"R","m":"NEDE","l":363,"v":-0.0014},{"r":3,"s":"R","m":"NEDE","l":419,"v":-0.0011},{"r":3,"s":"R","m":"NEDE","l":462,"v":-0.002},{"r":3,"s":"R","m":"NEDE","l":504,"v":-0.0042},{"r":3,"s":"R","m":"NEDE","l":539,"v":-0.0062},{"r":3,"s":"R","m":"NEDE","l":574,"v":-0.0053},{"r":3,"s":"R","m":"NEDE","l":644,"v":-0.0031},{"r":3,"s":"R","m":"NEDE","l":728,"v":0.0002},{"r":3,"s":"R","m":"NEDE","l":771,"v":0.0013},{"r":3,"s":"R","m":"NEDE","l":841,"v":0.0032},{"r":3,"s":"R","m":"NEDE","l":911,"v":0.0013},{"r":3,"s":"R","m":"NEDE","l":981,"v":0},{"r":3,"s":"R","m":"NEDE","l":1122,"v":-0.0001},{"r":3,"s":"R","m":"NEDE","l":1220,"v":-0.0007},{"r":3,"s":"R","m":"NEDE","l":1333,"v":0.0004},{"r":3,"s":"R","m":"NEDE","l":1403,"v":0.0002},{"r":3,"s":"R","m":"NEDE","l":1473,"v":-0.0009},{"r":3,"s":"R","m":"NEDE","l":1558,"v":0.0013},{"r":3,"s":"R","m":"NEDE","l":1670,"v":0.0048},{"r":3,"s":"R","m":"NEDE","l":1811,"v":-0.0011},{"r":3,"s":"R","m":"NEDE","l":1937,"v":0.0035},{"r":3,"s":"R","m":"NEDE","l":1965,"v":0.0044},{"r":3,"s":"R","m":"NEDE","l":2049,"v":0.0019},{"r":3,"s":"R","m":"NEDE","l":2106,"v":-0.0007},{"r":3,"s":"R","m":"NEDE","l":2204,"v":0.0024},{"r":3,"s":"R","m":"NEDE","l":2288,"v":0.0077},{"r":3,"s":"R","m":"NEDE","l":2387,"v":0.0035},{"r":3,"s":"R","m":"NEDE","l":2443,"v":0.0008},{"r":3,"s":"R","m":"NEDE","l":2499,"v":0.0032},
      {"r":3,"s":"R","m":"cADE","l":30,"v":-0.0064},{"r":3,"s":"R","m":"cADE","l":54,"v":-0.0014},{"r":3,"s":"R","m":"cADE","l":82,"v":-0.002},{"r":3,"s":"R","m":"cADE","l":138,"v":-0.0053},{"r":3,"s":"R","m":"cADE","l":188,"v":-0.008},{"r":3,"s":"R","m":"cADE","l":223,"v":-0.0053},{"r":3,"s":"R","m":"cADE","l":265,"v":-0.002},{"r":3,"s":"R","m":"cADE","l":307,"v":-0.0003},{"r":3,"s":"R","m":"cADE","l":349,"v":0.0002},{"r":3,"s":"R","m":"cADE","l":391,"v":-0.0003},{"r":3,"s":"R","m":"cADE","l":462,"v":-0.0025},{"r":3,"s":"R","m":"cADE","l":504,"v":-0.0036},{"r":3,"s":"R","m":"cADE","l":574,"v":-0.0025},{"r":3,"s":"R","m":"cADE","l":672,"v":-0.0009},{"r":3,"s":"R","m":"cADE","l":743,"v":0},{"r":3,"s":"R","m":"cADE","l":771,"v":0.0002},{"r":3,"s":"R","m":"cADE","l":855,"v":0.0013},{"r":3,"s":"R","m":"cADE","l":911,"v":0.0019},{"r":3,"s":"R","m":"cADE","l":1024,"v":0.003},{"r":3,"s":"R","m":"cADE","l":1122,"v":0.0015},{"r":3,"s":"R","m":"cADE","l":1192,"v":-0.0003},{"r":3,"s":"R","m":"cADE","l":1263,"v":-0.0007},{"r":3,"s":"R","m":"cADE","l":1333,"v":0},{"r":3,"s":"R","m":"cADE","l":1417,"v":0.0002},{"r":3,"s":"R","m":"cADE","l":1516,"v":0.0019},{"r":3,"s":"R","m":"cADE","l":1614,"v":0.0037},{"r":3,"s":"R","m":"cADE","l":1670,"v":0.0041},{"r":3,"s":"R","m":"cADE","l":1754,"v":0.0013},{"r":3,"s":"R","m":"cADE","l":1811,"v":-0.0007},{"r":3,"s":"R","m":"cADE","l":1937,"v":0.0024},{"r":3,"s":"R","m":"cADE","l":2035,"v":0.003},{"r":3,"s":"R","m":"cADE","l":2092,"v":-0.0003},{"r":3,"s":"R","m":"cADE","l":2148,"v":-0.0003},{"r":3,"s":"R","m":"cADE","l":2288,"v":0.0059},{"r":3,"s":"R","m":"cADE","l":2457,"v":0.0013},{"r":3,"s":"R","m":"cADE","l":2499,"v":0.0019},
      {"r":3,"s":"R","m":"EDE","l":30,"v":-0.0097},{"r":3,"s":"R","m":"EDE","l":54,"v":0.0002},{"r":3,"s":"R","m":"EDE","l":75,"v":0.0024},{"r":3,"s":"R","m":"EDE","l":96,"v":0.0008},{"r":3,"s":"R","m":"EDE","l":138,"v":-0.0036},{"r":3,"s":"R","m":"EDE","l":181,"v":-0.0108},{"r":3,"s":"R","m":"EDE","l":209,"v":-0.0152},{"r":3,"s":"R","m":"EDE","l":236,"v":-0.013},{"r":3,"s":"R","m":"EDE","l":279,"v":-0.0069},{"r":3,"s":"R","m":"EDE","l":321,"v":-0.0058},{"r":3,"s":"R","m":"EDE","l":391,"v":-0.0053},{"r":3,"s":"R","m":"EDE","l":462,"v":-0.0042},{"r":3,"s":"R","m":"EDE","l":546,"v":-0.0047},{"r":3,"s":"R","m":"EDE","l":602,"v":-0.0036},{"r":3,"s":"R","m":"EDE","l":672,"v":-0.0023},{"r":3,"s":"R","m":"EDE","l":743,"v":-0.0009},{"r":3,"s":"R","m":"EDE","l":771,"v":-0.0003},{"r":3,"s":"R","m":"EDE","l":911,"v":-0.0003},{"r":3,"s":"R","m":"EDE","l":1052,"v":0},{"r":3,"s":"R","m":"EDE","l":1122,"v":-0.0031},{"r":3,"s":"R","m":"EDE","l":1234,"v":-0.0047},{"r":3,"s":"R","m":"EDE","l":1333,"v":-0.0022},{"r":3,"s":"R","m":"EDE","l":1431,"v":-0.0009},{"r":3,"s":"R","m":"EDE","l":1473,"v":-0.0012},{"r":3,"s":"R","m":"EDE","l":1558,"v":0},{"r":3,"s":"R","m":"EDE","l":1656,"v":0.0013},{"r":3,"s":"R","m":"EDE","l":1754,"v":-0.0009},{"r":3,"s":"R","m":"EDE","l":1811,"v":-0.0047},{"r":3,"s":"R","m":"EDE","l":1923,"v":-0.0009},{"r":3,"s":"R","m":"EDE","l":2007,"v":0.0007},{"r":3,"s":"R","m":"EDE","l":2064,"v":-0.0009},{"r":3,"s":"R","m":"EDE","l":2120,"v":-0.0042},{"r":3,"s":"R","m":"EDE","l":2204,"v":-0.002},{"r":3,"s":"R","m":"EDE","l":2288,"v":0.0046},{"r":3,"s":"R","m":"EDE","l":2401,"v":-0.0036},{"r":3,"s":"R","m":"EDE","l":2457,"v":-0.0033},{"r":3,"s":"R","m":"EDE","l":2499,"v":-0.002},
      {"r":3,"s":"R","m":"DR","l":30,"v":-0.0036},{"r":3,"s":"R","m":"DR","l":47,"v":0.0013},{"r":3,"s":"R","m":"DR","l":82,"v":0.0013},{"r":3,"s":"R","m":"DR","l":138,"v":0.0008},{"r":3,"s":"R","m":"DR","l":209,"v":-0.0003},{"r":3,"s":"R","m":"DR","l":265,"v":-0.0003},{"r":3,"s":"R","m":"DR","l":321,"v":0.0002},{"r":3,"s":"R","m":"DR","l":391,"v":0.001},{"r":3,"s":"R","m":"DR","l":462,"v":0.001},{"r":3,"s":"R","m":"DR","l":532,"v":-0.0009},{"r":3,"s":"R","m":"DR","l":602,"v":-0.0011},{"r":3,"s":"R","m":"DR","l":743,"v":-0.0003},{"r":3,"s":"R","m":"DR","l":771,"v":-0.0007},{"r":3,"s":"R","m":"DR","l":911,"v":0.0002},{"r":3,"s":"R","m":"DR","l":1052,"v":0.0008},{"r":3,"s":"R","m":"DR","l":1122,"v":-0.0007},{"r":3,"s":"R","m":"DR","l":1192,"v":-0.0007},{"r":3,"s":"R","m":"DR","l":1333,"v":0.0005},{"r":3,"s":"R","m":"DR","l":1473,"v":-0.0009},{"r":3,"s":"R","m":"DR","l":1544,"v":0.0008},{"r":3,"s":"R","m":"DR","l":1670,"v":0.0024},{"r":3,"s":"R","m":"DR","l":1754,"v":0.0002},{"r":3,"s":"R","m":"DR","l":1825,"v":-0.0009},{"r":3,"s":"R","m":"DR","l":1937,"v":0.0019},{"r":3,"s":"R","m":"DR","l":2007,"v":0.003},{"r":3,"s":"R","m":"DR","l":2106,"v":0.0002},{"r":3,"s":"R","m":"DR","l":2176,"v":-0.0007},{"r":3,"s":"R","m":"DR","l":2302,"v":0.0052},{"r":3,"s":"R","m":"DR","l":2401,"v":0.0013},{"r":3,"s":"R","m":"DR","l":2499,"v":0.0013}
    ]
  },
  "concat": [
    {
      "width": 196, "height": 181,
      "layer": [
        {"data": {"name": "pts"}, "transform": [{"filter": "datum.r == 1 && datum.l < 30"}],
         "mark": {"type": "rule", "color": "#b3b3b3", "strokeWidth": 2, "clip": true},
         "encoding": {
           "x": {"field": "l", "type": "quantitative", "scale": {"domain": [1, 30], "nice": false, "zero": false}, "axis": {"values": [5, 10, 15, 20, 25, 30], "tickCount": 12, "labels": false, "title": null}},
           "y": {"field": "lo", "type": "quantitative", "scale": {"domain": [-0.5, 0.5], "nice": false}, "axis": {"values": [-0.4, -0.2, 0, 0.2, 0.4], "tickCount": 12, "format": ".1f", "title": "ΔCₗᵀᵀ / Cₗᵀᵀ", "minExtent": 30, "maxExtent": 30, "titlePadding": 5}},
           "y2": {"field": "hi"}}},
        {"data": {"name": "pts"}, "transform": [{"filter": "datum.r == 1 && datum.l < 30"}],
         "mark": {"type": "circle", "color": "#505050", "size": 10, "opacity": 0.85, "clip": true},
         "encoding": {"x": {"field": "l", "type": "quantitative"}, "y": {"field": "v", "type": "quantitative"}}},
        {"data": {"name": "crv"}, "transform": [{"filter": "datum.r == 1 && datum.s == 'L'"}],
         "mark": {"type": "line", "strokeWidth": 1.6, "clip": true, "interpolate": "monotone"},
         "encoding": {"x": {"field": "l", "type": "quantitative"}, "y": {"field": "v", "type": "quantitative"},
           "color": {"field": "m", "type": "nominal", "scale": {"domain": ["ΛCDM", "NEDE", "DR", "cADE", "EDE"], "range": ["#000000", "#d62728", "#1f77b4", "#ff7f0e", "#9467bd"]}, "legend": {"title": null}},
           "strokeDash": {"field": "m", "type": "nominal", "scale": {"domain": ["ΛCDM", "NEDE", "DR", "cADE", "EDE"], "range": [[1, 0], [1, 0], [1.5, 2.5], [5.5, 2.4], [9.6, 2.4, 1.5, 2.4]]}, "legend": {"title": null}}}}
      ]
    },
    {
      "width": 586, "height": 181,
      "layer": [
        {"data": {"name": "pts"}, "transform": [{"filter": "datum.r == 1 && datum.l > 30"}],
         "mark": {"type": "rule", "color": "#b3b3b3", "strokeWidth": 2, "clip": true},
         "encoding": {
           "x": {"field": "l", "type": "quantitative", "scale": {"domain": [30, 2500], "nice": false, "zero": false}, "axis": {"values": [500, 1000, 1500, 2000, 2500], "tickCount": 12, "labels": false, "title": null}},
           "y": {"field": "lo", "type": "quantitative", "scale": {"domain": [-0.0229, 0.0229], "nice": false}, "axis": {"orient": "right", "values": [-0.02, -0.01, 0, 0.01, 0.02], "tickCount": 12, "format": ".2f", "title": null}},
           "y2": {"field": "hi"}}},
        {"data": {"name": "pts"}, "transform": [{"filter": "datum.r == 1 && datum.l > 30"}],
         "mark": {"type": "circle", "color": "#505050", "size": 10, "opacity": 0.85, "clip": true},
         "encoding": {"x": {"field": "l", "type": "quantitative"}, "y": {"field": "v", "type": "quantitative"}}},
        {"data": {"name": "crv"}, "transform": [{"filter": "datum.r == 1 && datum.s == 'R'"}],
         "mark": {"type": "line", "strokeWidth": 1.6, "clip": true, "interpolate": "monotone"},
         "encoding": {"x": {"field": "l", "type": "quantitative"}, "y": {"field": "v", "type": "quantitative"},
           "color": {"field": "m", "type": "nominal", "scale": {"domain": ["ΛCDM", "NEDE", "DR", "cADE", "EDE"], "range": ["#000000", "#d62728", "#1f77b4", "#ff7f0e", "#9467bd"]}, "legend": {"title": null}},
           "strokeDash": {"field": "m", "type": "nominal", "scale": {"domain": ["ΛCDM", "NEDE", "DR", "cADE", "EDE"], "range": [[1, 0], [1, 0], [1.5, 2.5], [5.5, 2.4], [9.6, 2.4, 1.5, 2.4]]}, "legend": {"title": null}}}},
        {"mark": {"type": "rule", "color": "#d62728", "strokeWidth": 1.5, "strokeDash": [1.5, 2.5]}, "encoding": {"x": {"datum": 200}}},
        {"mark": {"type": "rule", "color": "#d62728", "strokeWidth": 1.5, "strokeDash": [5.5, 2.4]}, "encoding": {"x": {"datum": 300}}}
      ]
    },
    {
      "width": 196, "height": 181,
      "layer": [
        {"data": {"name": "pts"}, "transform": [{"filter": "datum.r == 2 && datum.l < 30"}],
         "mark": {"type": "rule", "color": "#b3b3b3", "strokeWidth": 2, "clip": true},
         "encoding": {
           "x": {"field": "l", "type": "quantitative", "scale": {"domain": [1, 30], "nice": false, "zero": false}, "axis": {"values": [5, 10, 15, 20, 25, 30], "tickCount": 12, "labels": false, "title": null}},
           "y": {"field": "lo", "type": "quantitative", "scale": {"domain": [-3, 3], "nice": false}, "axis": {"values": [-2, 0, 2], "tickCount": 12, "format": "d", "title": "ΔCₗᴱᴱ / Cₗᴱᴱ", "minExtent": 30, "maxExtent": 30, "titlePadding": 5}},
           "y2": {"field": "hi"}}},
        {"data": {"name": "pts"}, "transform": [{"filter": "datum.r == 2 && datum.l < 30"}],
         "mark": {"type": "circle", "color": "#505050", "size": 10, "opacity": 0.85, "clip": true},
         "encoding": {"x": {"field": "l", "type": "quantitative"}, "y": {"field": "v", "type": "quantitative"}}},
        {"data": {"name": "crv"}, "transform": [{"filter": "datum.r == 2 && datum.s == 'L'"}],
         "mark": {"type": "line", "strokeWidth": 1.6, "clip": true, "interpolate": "monotone"},
         "encoding": {"x": {"field": "l", "type": "quantitative"}, "y": {"field": "v", "type": "quantitative"},
           "color": {"field": "m", "type": "nominal", "scale": {"domain": ["ΛCDM", "NEDE", "DR", "cADE", "EDE"], "range": ["#000000", "#d62728", "#1f77b4", "#ff7f0e", "#9467bd"]}, "legend": {"title": null}},
           "strokeDash": {"field": "m", "type": "nominal", "scale": {"domain": ["ΛCDM", "NEDE", "DR", "cADE", "EDE"], "range": [[1, 0], [1, 0], [1.5, 2.5], [5.5, 2.4], [9.6, 2.4, 1.5, 2.4]]}, "legend": {"title": null}}}}
      ]
    },
    {
      "width": 586, "height": 181,
      "layer": [
        {"data": {"name": "pts"}, "transform": [{"filter": "datum.r == 2 && datum.l > 30"}],
         "mark": {"type": "rule", "color": "#b3b3b3", "strokeWidth": 2, "clip": true},
         "encoding": {
           "x": {"field": "l", "type": "quantitative", "scale": {"domain": [30, 2500], "nice": false, "zero": false}, "axis": {"values": [500, 1000, 1500, 2000, 2500], "tickCount": 12, "labels": false, "title": null}},
           "y": {"field": "lo", "type": "quantitative", "scale": {"domain": [-0.0602, 0.0602], "nice": false}, "axis": {"orient": "right", "values": [-0.05, -0.025, 0, 0.025, 0.05], "tickCount": 12, "format": ".3f", "title": null}},
           "y2": {"field": "hi"}}},
        {"data": {"name": "pts"}, "transform": [{"filter": "datum.r == 2 && datum.l > 30"}],
         "mark": {"type": "circle", "color": "#505050", "size": 10, "opacity": 0.85, "clip": true},
         "encoding": {"x": {"field": "l", "type": "quantitative"}, "y": {"field": "v", "type": "quantitative"}}},
        {"data": {"name": "crv"}, "transform": [{"filter": "datum.r == 2 && datum.s == 'R'"}],
         "mark": {"type": "line", "strokeWidth": 1.6, "clip": true, "interpolate": "monotone"},
         "encoding": {"x": {"field": "l", "type": "quantitative"}, "y": {"field": "v", "type": "quantitative"},
           "color": {"field": "m", "type": "nominal", "scale": {"domain": ["ΛCDM", "NEDE", "DR", "cADE", "EDE"], "range": ["#000000", "#d62728", "#1f77b4", "#ff7f0e", "#9467bd"]}, "legend": {"title": null}},
           "strokeDash": {"field": "m", "type": "nominal", "scale": {"domain": ["ΛCDM", "NEDE", "DR", "cADE", "EDE"], "range": [[1, 0], [1, 0], [1.5, 2.5], [5.5, 2.4], [9.6, 2.4, 1.5, 2.4]]}, "legend": {"title": null}}}},
        {"mark": {"type": "rule", "color": "#d62728", "strokeWidth": 1.5, "strokeDash": [1.5, 2.5]}, "encoding": {"x": {"datum": 200}}},
        {"mark": {"type": "rule", "color": "#d62728", "strokeWidth": 1.5, "strokeDash": [5.5, 2.4]}, "encoding": {"x": {"datum": 300}}}
      ]
    },
    {
      "width": 196, "height": 181,
      "layer": [
        {"data": {"name": "pts"}, "transform": [{"filter": "datum.r == 3 && datum.l < 30"}],
         "mark": {"type": "rule", "color": "#b3b3b3", "strokeWidth": 2, "clip": true},
         "encoding": {
           "x": {"field": "l", "type": "quantitative", "scale": {"domain": [1, 30], "nice": false, "zero": false}, "axis": {"values": [5, 10, 15, 20, 25, 30], "tickCount": 12, "format": "d", "labelFlush": false, "title": null}},
           "y": {"field": "lo", "type": "quantitative", "scale": {"domain": [-0.5, 0.5], "nice": false}, "axis": {"values": [-0.4, -0.2, 0, 0.2, 0.4], "tickCount": 12, "format": ".1f", "title": "ΔCₗᵀᴱ / √(CₗᵀᵀCₗᴱᴱ + (Cₗᵀᴱ)²)", "minExtent": 30, "maxExtent": 30, "titlePadding": 5}},
           "y2": {"field": "hi"}}},
        {"data": {"name": "pts"}, "transform": [{"filter": "datum.r == 3 && datum.l < 30"}],
         "mark": {"type": "circle", "color": "#505050", "size": 10, "opacity": 0.85, "clip": true},
         "encoding": {"x": {"field": "l", "type": "quantitative"}, "y": {"field": "v", "type": "quantitative"}}},
        {"data": {"name": "crv"}, "transform": [{"filter": "datum.r == 3 && datum.s == 'L'"}],
         "mark": {"type": "line", "strokeWidth": 1.6, "clip": true, "interpolate": "monotone"},
         "encoding": {"x": {"field": "l", "type": "quantitative"}, "y": {"field": "v", "type": "quantitative"},
           "color": {"field": "m", "type": "nominal", "scale": {"domain": ["ΛCDM", "NEDE", "DR", "cADE", "EDE"], "range": ["#000000", "#d62728", "#1f77b4", "#ff7f0e", "#9467bd"]}, "legend": {"title": null}},
           "strokeDash": {"field": "m", "type": "nominal", "scale": {"domain": ["ΛCDM", "NEDE", "DR", "cADE", "EDE"], "range": [[1, 0], [1, 0], [1.5, 2.5], [5.5, 2.4], [9.6, 2.4, 1.5, 2.4]]}, "legend": {"title": null}}}}
      ]
    },
    {
      "width": 586, "height": 181,
      "layer": [
        {"data": {"name": "pts"}, "transform": [{"filter": "datum.r == 3 && datum.l > 30"}],
         "mark": {"type": "rule", "color": "#b3b3b3", "strokeWidth": 2, "clip": true},
         "encoding": {
           "x": {"field": "l", "type": "quantitative", "scale": {"domain": [30, 2500], "nice": false, "zero": false}, "axis": {"values": [500, 1000, 1500, 2000, 2500], "tickCount": 12, "format": "d", "title": "ℓ", "titleFontSize": 17, "titleFontStyle": "italic", "titlePadding": 4}},
           "y": {"field": "lo", "type": "quantitative", "scale": {"domain": [-0.03, 0.03], "nice": false}, "axis": {"orient": "right", "values": [-0.02, 0, 0.02], "tickCount": 12, "format": ".2f", "title": null}},
           "y2": {"field": "hi"}}},
        {"data": {"name": "pts"}, "transform": [{"filter": "datum.r == 3 && datum.l > 30"}],
         "mark": {"type": "circle", "color": "#505050", "size": 10, "opacity": 0.85, "clip": true},
         "encoding": {"x": {"field": "l", "type": "quantitative"}, "y": {"field": "v", "type": "quantitative"}}},
        {"data": {"name": "crv"}, "transform": [{"filter": "datum.r == 3 && datum.s == 'R'"}],
         "mark": {"type": "line", "strokeWidth": 1.6, "clip": true, "interpolate": "monotone"},
         "encoding": {"x": {"field": "l", "type": "quantitative"}, "y": {"field": "v", "type": "quantitative"},
           "color": {"field": "m", "type": "nominal", "scale": {"domain": ["ΛCDM", "NEDE", "DR", "cADE", "EDE"], "range": ["#000000", "#d62728", "#1f77b4", "#ff7f0e", "#9467bd"]}, "legend": {"title": null}},
           "strokeDash": {"field": "m", "type": "nominal", "scale": {"domain": ["ΛCDM", "NEDE", "DR", "cADE", "EDE"], "range": [[1, 0], [1, 0], [1.5, 2.5], [5.5, 2.4], [9.6, 2.4, 1.5, 2.4]]}, "legend": {"title": null}}}},
        {"mark": {"type": "rule", "color": "#d62728", "strokeWidth": 1.5, "strokeDash": [1.5, 2.5]}, "encoding": {"x": {"datum": 200}}},
        {"mark": {"type": "rule", "color": "#d62728", "strokeWidth": 1.5, "strokeDash": [5.5, 2.4]}, "encoding": {"x": {"datum": 300}}}
      ]
    }
  ],
  "resolve": {"scale": {"x": "independent", "y": "independent", "color": "shared", "strokeDash": "shared"}},
  "config": {
    "view": {"stroke": "black", "strokeWidth": 1},
    "axis": {"domain": false, "grid": false, "ticks": true, "tickColor": "black", "tickSize": 3.5, "tickWidth": 0.8, "labelFont": "Liberation Serif", "labelFontSize": 11.5, "labelColor": "black", "labelPadding": 3, "labelOverlap": false, "titleFont": "DejaVu Serif", "titleFontWeight": "normal", "titleFontStyle": "italic", "titleFontSize": 14.5, "titleColor": "black", "titlePadding": 6},
    "legend": {"orient": "none", "legendX": 186, "legendY": -50, "direction": "horizontal", "columns": 5, "symbolType": "stroke", "symbolSize": 784, "symbolStrokeWidth": 1.6, "labelFont": "DejaVu Sans", "labelFontSize": 12.5, "labelColor": "black", "columnPadding": 17, "labelOffset": 10, "padding": 3, "strokeColor": "#cccccc", "cornerRadius": 3, "fillColor": "white"}
  }
}
